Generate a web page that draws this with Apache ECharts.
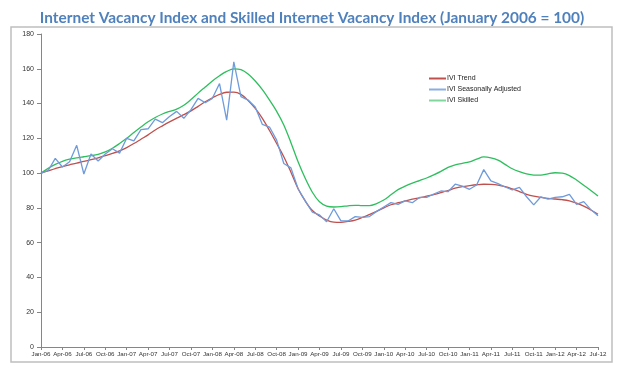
<!DOCTYPE html>
<html><head><meta charset="utf-8">
<script src="https://cdn.jsdelivr.net/npm/echarts@6/dist/echarts.min.js"></script>
<style>html,body{margin:0;padding:0;background:#fff}#c{width:624px;height:373px}</style>
</head><body><div id="c"></div>
<script>
const months = ['Jan','Feb','Mar','Apr','May','Jun','Jul','Aug','Sep','Oct','Nov','Dec'];
const categories = [];
for (let y = 6; y <= 12; y++) for (let m = 0; m < 12; m++) { if (y === 12 && m > 6) break; categories.push(months[m] + '-' + String(y).padStart(2,'0')); }

const seriesNames = ['IVI Trend', 'IVI Seasonally Adjusted', 'IVI Skilled'];
const yTicks = [0, 20, 40, 60, 80, 100, 120, 140, 160, 180];

const trend = [100,101.3,102.6,103.8,104.8,105.8,106.7,107.7,108.8,110,111.3,112.8,114.7,117,119.5,122,124.8,127.2,129.5,131.6,133.6,135.8,138.4,141,143.3,145.3,146.5,146.6,145.3,141.8,137.2,131.5,124.5,117,109.4,100.5,91,84,78.5,75.3,73,71.8,71.7,72.2,73,74.5,76.2,78,80,81.8,83,84,85,85.8,86.7,87.6,88.8,90,91.3,92.2,92.8,93.3,93.6,93.5,93.1,92.2,90.9,89.4,87.8,86.7,86,85.5,85.1,84.7,84,82.7,81,78.8,76.3];
const seasonallyAdjusted = [100,101.5,108.5,103.5,106.5,116,99.5,111,107,111,114,111.5,120,118.5,125,125.5,131,129,132.5,135.5,131.5,136.5,143,140.5,143,151.5,130.5,164,144,142,138,128,126.5,119,105.5,103,91,84,77.5,76,72,79.5,72.5,72.5,75,74.5,75,78,80.5,83,82,84,83,86,86,88,89.7,89.3,93.6,92.5,90.7,93.2,102,95.5,94,92,90.3,91.8,86.4,81.7,86.4,85,86,86.4,87.8,82,83.6,79,75.5];
const skilled = [100,102.7,105,106.8,108,108.8,109.4,110,110.8,112.2,114.3,117,120,123.3,126.5,129.5,132,134,135.5,136.8,139,142.3,146,149.5,153,156,158.5,160,159.5,157,153,148,142,135.5,127.7,117.5,106.5,97,89,83.5,81,80.5,80.7,81.2,81.5,81.3,81.3,82.5,84.5,87.5,90.5,92.5,94.2,95.7,97.2,99,101,103.3,104.8,105.6,106.5,108,109.3,108.8,107.5,105,102.5,100.8,99.6,98.9,98.8,99.6,100.2,100,98.6,96,93,90,86.8];

const chart = echarts.init(document.getElementById('c'), null, {renderer: 'canvas'});
const axisFont = {fontFamily: 'Liberation Sans', fontSize: 6.2, color: '#333'};
chart.setOption({
  animation: false,
  title: {
    text: 'Internet Vacancy Index and Skilled Internet Vacancy Index (January 2006 = 100)',
    left: 'center', top: 6,
    textStyle: {fontFamily: 'Lato', fontSize: 15.4, fontWeight: 'bold', color: '#4F81BD'}
  },
  graphic: [{
    type: 'rect', shape: {x: 11, y: 27, width: 601, height: 335},
    style: {fill: 'none', stroke: '#BFBFBF', lineWidth: 1.5}, silent: true
  }],
  legend: {
    orient: 'vertical', left: 424, top: 70, itemWidth: 17, itemHeight: 2, itemGap: 4,
    icon: 'rect',
    textStyle: {fontFamily: 'Liberation Sans', fontSize: 7, color: '#222', padding: [0,0,0,-4]},
    data: seriesNames
  },
  grid: {left: 41, right: 26, top: 34, bottom: 26, containLabel: false},
  xAxis: {
    type: 'category', data: categories, boundaryGap: false,
    axisLine: {lineStyle: {color: '#868686', width: 1}},
    axisTick: {show: true, interval: 2, length: 3, lineStyle: {color: '#868686'}},
    axisLabel: Object.assign({interval: 2, margin: 4}, axisFont),
    splitLine: {show: false}
  },
  yAxis: {
    type: 'value', min: 0, max: 180, interval: 20,
    axisLine: {show: true, lineStyle: {color: '#868686', width: 1}},
    axisTick: {show: true, length: 4, lineStyle: {color: '#868686'}},
    axisLabel: Object.assign({margin: 7, formatter: v => yTicks.includes(v) ? String(v) : ''}, axisFont, {fontSize: 7}),
    splitLine: {show: false}
  },
  series: [
    {name: seriesNames[0], type: 'line', data: trend, smooth: 0.35, symbol: 'none', lineStyle: {color: '#C0504D', width: 1.3}, itemStyle: {color: '#C0504D'}, z: 3},
    {name: seriesNames[1], type: 'line', data: seasonallyAdjusted, smooth: false, symbol: 'none', lineStyle: {color: '#6E9BDC', width: 1.3}, itemStyle: {color: '#8AAEE0'}, z: 4},
    {name: seriesNames[2], type: 'line', data: skilled, smooth: 0.35, symbol: 'none', lineStyle: {color: '#2EBE5E', width: 1.3}, itemStyle: {color: '#7FD79C'}, z: 2}
  ]
});
</script></body></html>
